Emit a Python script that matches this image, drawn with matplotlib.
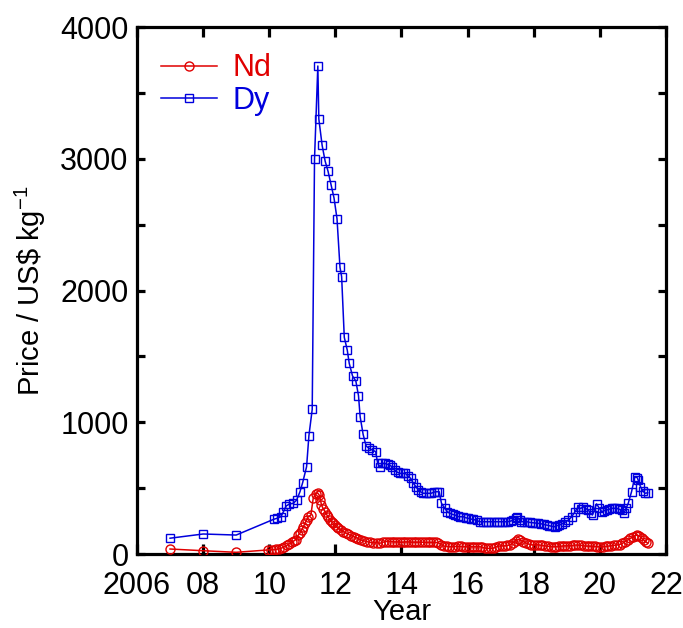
import matplotlib
matplotlib.use("Agg")
import matplotlib.pyplot as plt
from matplotlib.ticker import MultipleLocator, FixedLocator

plt.rcParams['font.family'] = ['Liberation Sans', 'DejaVu Sans']
plt.rcParams['mathtext.fontset'] = 'custom'
plt.rcParams['mathtext.rm'] = 'Liberation Sans'
plt.rcParams['mathtext.it'] = 'Liberation Sans'

# ---- data ----
dy_year = [2007.0, 2008.0, 2009.0, 2010.13, 2010.23, 2010.35, 2010.43, 2010.51, 2010.61, 2010.73,
           2010.83, 2010.93, 2011.01, 2011.13, 2011.2, 2011.3, 2011.37, 2011.47, 2011.5, 2011.6,
           2011.69, 2011.78, 2011.87, 2011.96, 2012.05, 2012.14, 2012.19, 2012.27, 2012.36, 2012.42,
           2012.52, 2012.62, 2012.7, 2012.75, 2012.84, 2012.93, 2013.02, 2013.12, 2013.22, 2013.28,
           2013.35, 2013.42, 2013.5, 2013.58, 2013.65, 2013.72, 2013.8, 2013.88, 2013.96, 2014.04,
           2014.12, 2014.2, 2014.28, 2014.36, 2014.44, 2014.51, 2014.59, 2014.66, 2014.74, 2014.82,
           2014.9, 2014.98, 2015.07, 2015.14, 2015.21, 2015.31, 2015.39, 2015.47, 2015.55, 2015.62,
           2015.7, 2015.78, 2015.87, 2015.95, 2016.02, 2016.1, 2016.17, 2016.27, 2016.37, 2016.46,
           2016.55, 2016.63, 2016.71, 2016.8, 2016.88, 2016.96, 2017.05, 2017.13, 2017.21, 2017.3,
           2017.38, 2017.46, 2017.5, 2017.58, 2017.63, 2017.71, 2017.8, 2017.88, 2017.96, 2018.05,
           2018.13, 2018.21, 2018.3, 2018.39, 2018.47, 2018.55, 2018.63, 2018.7, 2018.78, 2018.86,
           2018.95, 2019.05, 2019.15, 2019.25, 2019.35, 2019.42, 2019.5, 2019.58, 2019.65, 2019.72,
           2019.78, 2019.9, 2019.98, 2020.06, 2020.14, 2020.21, 2020.29, 2020.36, 2020.44, 2020.51,
           2020.58, 2020.66, 2020.73, 2020.8, 2020.86, 2020.96, 2021.06, 2021.13, 2021.16, 2021.23,
           2021.3, 2021.37, 2021.45]
dy_price = [120, 152, 144, 263, 271, 283, 321, 364, 380, 385,
            410, 473, 541, 663, 898, 1098, 3000, 3704, 3302, 3102,
            2983, 2904, 2803, 2702, 2545, 2176, 2105, 1645, 1548, 1447,
            1351, 1313, 1202, 1042, 908, 820, 802, 789, 777, 688,
            662, 688, 688, 680, 675, 660, 637, 620, 612, 612,
            612, 590, 574, 537, 510, 486, 470, 461, 461, 461,
            461, 470, 473, 473, 385, 347, 320, 309, 300, 296,
            285, 283, 283, 275, 271, 265, 263, 255, 245, 245,
            245, 245, 245, 245, 245, 245, 245, 245, 245, 250,
            258, 270, 283, 255, 245, 245, 245, 240, 238, 235,
            233, 230, 225, 220, 215, 210, 207, 215, 220, 230,
            240, 258, 283, 321, 359, 345, 359, 345, 334, 310,
            296, 380, 350, 321, 330, 334, 340, 347, 347, 347,
            340, 334, 309, 350, 385, 473, 587, 580, 562, 511,
            480, 461, 465]

nd_year = [2007.0, 2008.0, 2009.0, 2009.95, 2010.05, 2010.13, 2010.21, 2010.3, 2010.38, 2010.46,
           2010.53, 2010.6, 2010.68, 2010.75, 2010.8, 2010.88, 2010.93, 2010.98, 2011.03, 2011.08,
           2011.13, 2011.18, 2011.26, 2011.33, 2011.4, 2011.46, 2011.51, 2011.55, 2011.58, 2011.63,
           2011.69, 2011.74, 2011.79, 2011.84, 2011.89, 2011.94, 2011.99, 2012.04, 2012.09, 2012.17,
           2012.24, 2012.32, 2012.39, 2012.47, 2012.55, 2012.63, 2012.7, 2012.78, 2012.86, 2012.95,
           2013.05, 2013.15, 2013.25, 2013.35, 2013.45, 2013.53, 2013.62, 2013.7, 2013.78, 2013.87,
           2013.95, 2014.04, 2014.12, 2014.2, 2014.29, 2014.37, 2014.45, 2014.54, 2014.62, 2014.7,
           2014.79, 2014.87, 2014.95, 2015.04, 2015.12, 2015.2, 2015.29, 2015.37, 2015.45, 2015.54,
           2015.62, 2015.7, 2015.79, 2015.87, 2015.95, 2016.04, 2016.12, 2016.2, 2016.29, 2016.37,
           2016.45, 2016.54, 2016.62, 2016.7, 2016.79, 2016.87, 2016.95, 2017.04, 2017.12, 2017.2,
           2017.29, 2017.37, 2017.45, 2017.53, 2017.6, 2017.68, 2017.76, 2017.85, 2017.93, 2018.01,
           2018.1, 2018.18, 2018.26, 2018.35, 2018.43, 2018.51, 2018.6, 2018.68, 2018.76, 2018.85,
           2018.93, 2019.01, 2019.1, 2019.18, 2019.26, 2019.35, 2019.43, 2019.51, 2019.6, 2019.68,
           2019.76, 2019.85, 2019.93, 2020.01, 2020.1, 2020.18, 2020.26, 2020.35, 2020.43, 2020.51,
           2020.6, 2020.68, 2020.76, 2020.84, 2020.92, 2021.0, 2021.08, 2021.13, 2021.2, 2021.27,
           2021.33, 2021.4, 2021.45]
nd_price = [38, 25, 13, 30, 32, 34, 36, 40, 46, 55,
            65, 76, 94, 100, 110, 144, 160, 182, 205, 233,
            260, 283, 296, 423, 455, 465, 448, 410, 372, 345,
            321, 298, 278, 260, 245, 232, 220, 207, 195, 182,
            169, 160, 150, 140, 132, 125, 115, 106, 100, 94,
            88, 85, 85, 82, 90, 95, 95, 95, 92, 92,
            90, 90, 92, 92, 90, 90, 90, 90, 90, 88,
            88, 88, 88, 88, 85, 70, 60, 58, 56, 56,
            56, 58, 58, 56, 56, 55, 55, 55, 56, 56,
            50, 45, 43, 42, 45, 55, 60, 62, 62, 65,
            70, 85, 100, 111, 105, 95, 85, 75, 70, 68,
            70, 68, 65, 62, 58, 56, 56, 56, 58, 60,
            62, 62, 62, 65, 68, 68, 65, 62, 60, 60,
            58, 58, 56, 56, 56, 58, 60, 62, 65, 68,
            72, 80, 95, 106, 118, 131, 140, 144, 135, 118,
            106, 90, 83]

x_ticks = [2006, 2008, 2010, 2012, 2014, 2016, 2018, 2020, 2022]
x_ticklabels = ['2006', '08', '10', '12', '14', '16', '18', '20', '22']
y_ticks = [0, 1000, 2000, 3000, 4000]

red = '#e00000'
blue = '#0000dd'
FS = 22

fig = plt.figure(figsize=(6.83, 6.28), dpi=100)
ax = fig.add_axes([0.2006, 0.1178, 0.7744, 0.8392])

ax.plot(nd_year, nd_price, color=red, lw=1.1, marker='o', ms=6.5,
        mfc='none', mec=red, mew=1.0, label='Nd', zorder=3)
ax.plot(dy_year, dy_price, color=blue, lw=1.1, marker='s', ms=6.3,
        mfc='none', mec=blue, mew=1.0, label='Dy', zorder=3)

ax.set_xlim(2006, 2022)
ax.set_ylim(0, 4000)
ax.xaxis.set_major_locator(FixedLocator(x_ticks))
ax.set_xticklabels(x_ticklabels)
ax.yaxis.set_major_locator(FixedLocator(y_ticks))
ax.yaxis.set_minor_locator(MultipleLocator(500))

for s in ax.spines.values():
    s.set_linewidth(2.3)
ax.tick_params(which='both', direction='in', top=True, right=True,
               width=2.3, labelsize=FS)
ax.tick_params(axis='x', which='both', length=7, pad=12)
ax.tick_params(axis='y', which='both', length=5.5, pad=6)

ax.set_xlabel('Year', fontsize=21, labelpad=-2)
ax.set_ylabel(r'Price / US\$ kg$^{-1}$', fontsize=21, labelpad=9)

leg = ax.legend(loc='upper left', frameon=False, fontsize=FS,
                handlelength=1.85, handletextpad=0.5, labelspacing=0.08,
                borderpad=0.0, borderaxespad=0.0,
                bbox_to_anchor=(0.045, 0.95))
for txt, c in zip(leg.get_texts(), [red, blue]):
    txt.set_color(c)

fig.savefig('out.png', dpi=100)
